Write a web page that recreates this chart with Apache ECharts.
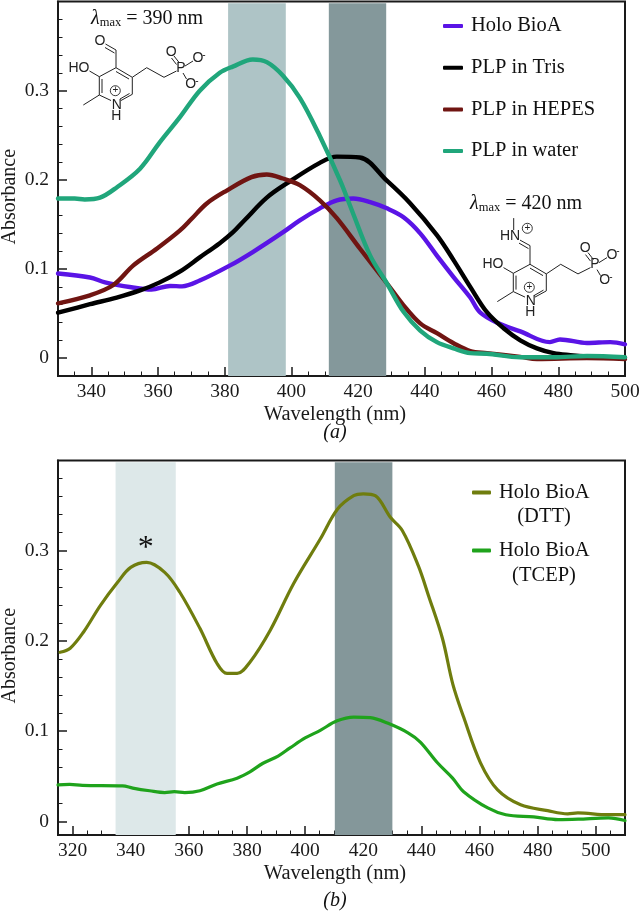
<!DOCTYPE html>
<html><head><meta charset="utf-8">
<style>html,body{margin:0;padding:0;background:#fff}#c{width:640px;height:912px}</style>
<script src="https://cdn.jsdelivr.net/npm/echarts@6/dist/echarts.min.js"></script>
</head><body><div id="c"></div>
<script>
// ---------- data ----------
const xMajorA = [340,360,380,400,420,440,460,480,500];
const xMinorA = [335,345,350,355,365,370,375,385,390,395,405,410,415,425,430,435,445,450,455,465,470,475,485,490,495];
const xMajorB = [320,340,360,380,400,420,440,460,480,500];
const xMinorB = [325,330,335,345,350,355,365,370,375,385,390,395,405,410,415,425,430,435,445,450,455,465,470,475,485,490,495,505];
const yMajor = [0,0.1,0.2,0.3];
const yMinor = [0.02,0.04,0.06,0.08,0.12,0.14,0.16,0.18,0.22,0.24,0.26,0.28,0.32,0.34,0.36,0.38];
const holoWl = [330,339.6,344.1,352,358,363.6,367.2,372.5,381.6,388.4,397.4,402.5,408.5,413.6,418.5,423.6,428.6,433.6,438.6,443.6,448.6,453.6,456.5,461.5,468.6,477.5,480.5,488.6,495.6,500];
const holoAbs = [.095,.0905,.085,.0795,.077,.081,.0805,.087,.104,.119,.141,.1545,.168,.177,.179,.175,.168,.158,.14,.115,.091,.068,.0515,.04,.03,.018,.021,.017,.018,.0155];
const trisWl = [330,339.6,347.6,354.6,360.5,366.5,372.5,378.5,382.4,386,392.6,398.6,408.5,413.6,420.5,428.6,435.5,443.6,448.6,453.6,458.6,463.6,468.6,473.6,478.6,483.6,488.6,500];
const trisAbs = [.051,.0605,.068,.076,.085,.097,.113,.129,.141,.155,.18,.196,.219,.226,.225,.199,.174,.138,.11,.08,.0515,.0335,.02,.011,.0056,.0034,.002,.0005];
const hepesWl = [330,339.6,346.6,352.6,359.7,366.5,370,374.6,380.6,388,392.6,397.4,402.5,408.5,413.6,420.5,428.6,433.6,438.6,443.6,448.6,453.6,458.6,468.6,473.6,488.6,500];
const hepesAbs = [.0615,.0705,.082,.104,.123,.143,.156,.1735,.188,.203,.206,.2015,.194,.177,.157,.123,.084,.0593,.039,.028,.0168,.008,.0056,.0015,-.001,0,-.001];
const waterWl = [330,335,338,342.6,347.6,354.6,360.5,366.5,372.5,378.5,382.4,388.4,392.6,397.4,402.5,408,414.6,418.5,423.6,428.6,433.6,438.6,443.6,448.6,453.6,458.6,468.6,478.6,488.6,500];
const waterAbs = [.179,.179,.178,.18,.1915,.2125,.242,.27,.30,.32,.327,.335,.332,.317,.292,.253,.199,.162,.115,.084,.052,.031,.018,.011,.0056,.005,.001,.001,.0025,.001];
const dttWl = [315.7,319.2,323.8,329.6,335.5,340,345.5,351.7,356.9,363.8,369.7,373.1,376.6,381,388,396,405.2,411.1,416.7,420,424.1,429.3,433.4,438.9,442.4,447.2,450.8,454.5,460.3,466.2,474.1,483.4,490.3,493.8,504,510];
const dttAbs = [.1875,.192,.21,.2395,.265,.2815,.287,.276,.254,.214,.175,.164,.164,.1765,.212,.2635,.313,.346,.361,.363,.361,.337,.3225,.2835,.2505,.203,.152,.1157,.065,.035,.0185,.012,.0085,.0095,.0075,.0075];
const tcepWl = [315,319,323.4,337.2,340.7,346.5,351.7,355,358.6,363.8,369.7,376.6,381,385.5,390.7,394.8,400,405.2,411,416.7,422.4,428.3,435.5,439.6,445.5,450.7,454.5,462.8,469,478.6,487,493.9,504.3,510];
const tcepAbs = [.0405,.041,.04,.0395,.037,.034,.032,.033,.032,.034,.0415,.048,.055,.0645,.0725,.0815,.0925,.101,.1115,.1157,.115,.109,.098,.088,.065,.048,.033,.015,.0075,.005,.002,.0025,.004,.001];
const bandsA = [[381,398.3,'#aec4c6'],[411.2,428.4,'#84989b']];
const bandsB = [[334.8,355.5,'#dde8e9'],[410.2,430,'#84979a']];
const legendA = ['Holo BioA','PLP in Tris','PLP in HEPES','PLP in water'];
const legendB = ['Holo BioA (DTT)','Holo BioA (TCEP)'];
const colours = {holo:'#5a14e6',tris:'#000000',hepes:'#701512',water:'#20a67b',dtt:'#6f7d0e',tcep:'#1fa31c'};

// ---------- helpers ----------
const FONT = '"Liberation Serif","Times New Roman",serif';
const INK = '#1a1a1a';
const zip = (a,b) => a.map((x,i)=>[x,b[i]]);
function xAxisMain(idx,min,max,major){
  return {type:'value',gridIndex:idx,position:'bottom',min,max,name:'Wavelength (nm)',nameLocation:'middle',nameGap:28,nameMoveOverlap:false,
    nameTextStyle:{fontFamily:FONT,fontSize:20.5,color:INK,padding:[0,13,0,0]},
    axisLine:{onZero:false,lineStyle:{color:INK,width:2}},
    axisTick:{inside:true,length:9,customValues:major,lineStyle:{color:INK,width:1.5}},
    splitLine:{show:false},
    axisLabel:{fontFamily:FONT,fontSize:19.5,color:INK,margin:6,customValues:major,hideOverlap:false}};
}
function xAxisMinor(idx,min,max,minor){
  return {type:'value',gridIndex:idx,position:'bottom',min,max,
    axisLine:{show:false,onZero:false},
    axisTick:{inside:true,length:4.5,customValues:minor,lineStyle:{color:INK,width:1}},
    splitLine:{show:false},axisLabel:{show:false}};
}
function yAxisMain(idx,min){
  return {type:'value',gridIndex:idx,position:'left',min,max:0.4,name:'Absorbance',nameLocation:'middle',nameGap:38,nameMoveOverlap:false,
    nameTextStyle:{fontFamily:FONT,fontSize:20,color:INK,padding:[0,16,0,0]},
    axisLine:{onZero:false,lineStyle:{color:INK,width:2}},
    axisTick:{inside:true,length:9,customValues:yMajor,lineStyle:{color:INK,width:1.5}},
    splitLine:{show:false},
    axisLabel:{fontFamily:FONT,fontSize:19.5,color:INK,margin:9,customValues:yMajor,formatter:v=>String(v)}};
}
function yAxisMinor(idx,min){
  return {type:'value',gridIndex:idx,position:'left',min,max:0.4,
    axisLine:{show:false,onZero:false},
    axisTick:{inside:true,length:4.5,customValues:yMinor,lineStyle:{color:INK,width:1}},
    splitLine:{show:false},axisLabel:{show:false}};
}
function line(name,idx,wl,abs,color,width,bands,yMin){
  const s = {name,type:'line',xAxisIndex:idx,yAxisIndex:idx,data:zip(wl,abs),smooth:0.35,showSymbol:false,symbol:'none',
    lineStyle:{color,width,cap:'round',join:'round'},itemStyle:{color},z:3,clip:true};
  if(bands) s.markArea = {silent:true,z:1,data:bands.map(b=>[{xAxis:b[0],yAxis:0.398,itemStyle:{color:b[2],opacity:1}},{xAxis:b[1],yAxis:yMin}])};
  return s;
}

// ---------- molecule drawing ----------
const ringBonds = [[116,67.7,132.3,77.3],[132.3,77.3,132.3,94.3],[132.3,94.3,121,100.5],[111,100.5,99.3,95],[99.3,95,99.3,76.7],[99.3,76.7,116,67.7],
  [102,79,102,93],[116,71.5,129,79],[120,99,129.5,93.5],
  [99.3,76.7,89.5,71],[99.3,95,83.3,105],
  [132.3,77.3,146.7,67.7],[146.7,67.7,164,77.3],[164,77.3,176.5,71],
  [179.5,63,174,56],[176.5,64.5,171.5,58],[185,66,193,61],[183,73,186.5,79]];
const aldehydeBonds = [[116,67.7,116,50],[116,50,105.5,44],[114.5,53,105,47.5]];
const iminiumBonds = [[116,67.7,116,49],[116,49,106,43.5],[114.5,52,105,46.5],[99.7,21.5,99.7,33.5]];
function mol(ox,oy,bonds,texts,circles){
  const ch=[];
  bonds.forEach(b=>ch.push({type:'line',shape:{x1:b[0],y1:b[1],x2:b[2],y2:b[3]},style:{stroke:'#222',lineWidth:1}}));
  circles.forEach(c=>{
    ch.push({type:'circle',shape:{cx:c[0],cy:c[1],r:5},style:{stroke:'#222',fill:'#fff',lineWidth:0.9}});
    ch.push({type:'text',style:{x:c[0],y:c[1],text:'+',fontFamily:'"Liberation Sans",sans-serif',fontSize:10,fill:'#222',align:'center',verticalAlign:'middle'}});
  });
  texts.forEach(t=>ch.push({type:'text',style:{x:t[1],y:t[2],text:t[0],fontFamily:'"Liberation Sans",sans-serif',fontSize:t[3]||14,fill:'#222',align:'center',verticalAlign:'middle'}}));
  return {type:'group',x:ox,y:oy,z:10,children:ch};
}
const commonTexts = [['HO',79,68],['N',116.7,105],['H',116.3,116],['P',181,68],['O',171.3,51.7],['O',198,58.5],['-',204,55,10],['O',190.7,84],['-',197,81,10]];
function lam(x,y,val){
  return {type:'text',z:10,x,y,style:{text:'{l|λ}{s|max}{t| = '+val+' nm}',verticalAlign:'middle',rich:{
    l:{fontFamily:FONT,fontSize:20,fontStyle:'italic',fill:'#111'},
    s:{fontFamily:FONT,fontSize:12.5,fill:'#111',verticalAlign:'bottom',padding:[8,0,0,0]},
    t:{fontFamily:FONT,fontSize:20,fill:'#111'}}}};
}
const plainText=(text,x,y,extra)=>({type:'text',z:10,x,y,style:Object.assign({text,fontFamily:FONT,fontSize:20,fill:'#111',align:'center',verticalAlign:'middle'},extra||{})});

const option = {
  animation:false,backgroundColor:'#fff',
  grid:[
    {left:58,top:1.5,width:567,height:374.5,outerBoundsMode:'none',containLabel:false,show:true,borderColor:INK,borderWidth:2,backgroundColor:'transparent'},
    {left:58,top:460.5,width:567,height:374.5,outerBoundsMode:'none',containLabel:false,show:true,borderColor:INK,borderWidth:2,backgroundColor:'transparent'}
  ],
  xAxis:[xAxisMain(0,330,500,xMajorA),xAxisMain(1,315,510,xMajorB),xAxisMinor(0,330,500,xMinorA),xAxisMinor(1,315,510,xMinorB)],
  yAxis:[yAxisMain(0,-0.02),yAxisMain(1,-0.015),yAxisMinor(0,-0.02),yAxisMinor(1,-0.015)],
  legend:[
    {data:legendA,left:443,top:15.5,padding:0,orient:'vertical',itemWidth:20,itemHeight:4,itemGap:20.7,icon:'roundRect',
     textStyle:{fontFamily:FONT,fontSize:20.5,color:'#111',padding:[0,0,0,3]},selectedMode:false},
    {data:legendB,left:472,top:482,padding:0,orient:'vertical',itemWidth:19,itemHeight:4,itemGap:37,icon:'roundRect',
     formatter:()=>'Holo BioA',
     textStyle:{fontFamily:FONT,fontSize:20.5,color:'#111',padding:[0,0,0,3]},selectedMode:false}
  ],
  series:[
    line(legendA[0],0,holoWl,holoAbs,colours.holo,4.4,bandsA,-0.02),
    line(legendA[1],0,trisWl,trisAbs,colours.tris,4.4),
    line(legendA[2],0,hepesWl,hepesAbs,colours.hepes,4.4),
    line(legendA[3],0,waterWl,waterAbs,colours.water,4.4),
    line(legendB[0],1,dttWl,dttAbs,colours.dtt,3.2,bandsB,-0.015),
    line(legendB[1],1,tcepWl,tcepAbs,colours.tcep,3.2)
  ],
  graphic:[
    lam(91,19,'390'),
    lam(470,204,'420'),
    mol(0,0,ringBonds.concat(aldehydeBonds),commonTexts.concat([['O',100,41]]),[[115.3,90.7]]),
    mol(414,196.6,ringBonds.concat(iminiumBonds),commonTexts.concat([['HN',96,39.5]]),[[115.3,90.7],[113.3,31.7]]),
    plainText('(a)',335,433,{fontStyle:'italic'}),
    plainText('(b)',335,901,{fontStyle:'italic'}),
    plainText('(DTT)',544,517,{fontSize:20.5}),
    plainText('(TCEP)',544,576,{fontSize:20.5}),
    plainText('*',145.7,549,{fontSize:32})
  ]
};
const chart = echarts.init(document.getElementById('c'),null,{renderer:'canvas'});
chart.setOption(option);
</script></body></html>
